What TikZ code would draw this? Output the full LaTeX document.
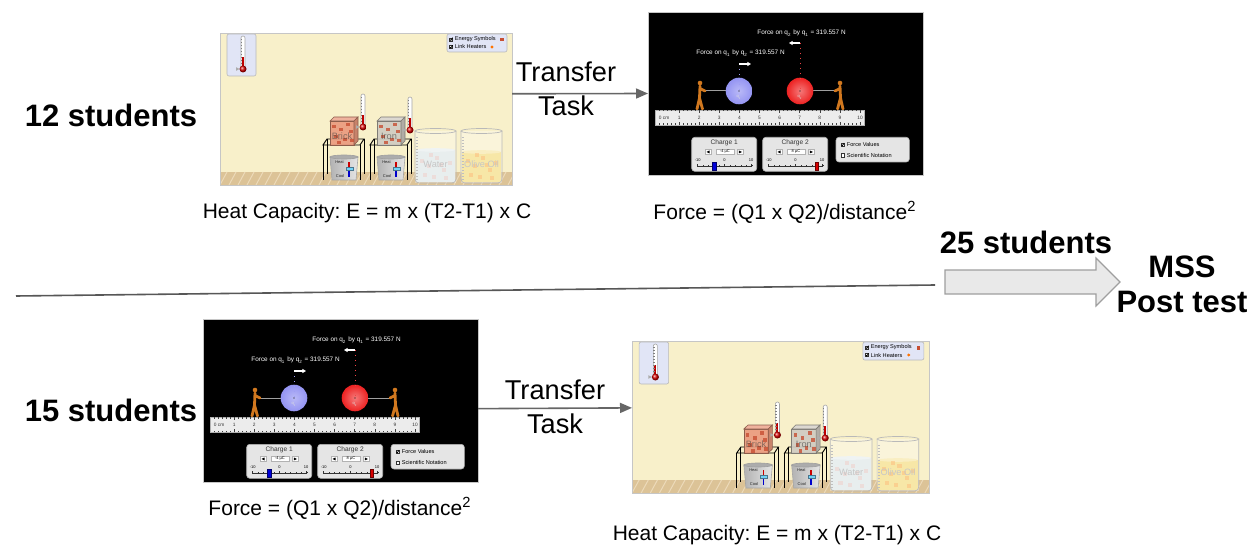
\documentclass[tikz,border=0pt]{standalone}
\usepackage{fontspec}
\setmainfont{Liberation Sans}
\usetikzlibrary{calc,arrows.meta}
\frenchspacing

\newlength{\du}
\setlength{\du}{0.5pt}

\definecolor{wallcolor}{rgb}{0.973, 0.941, 0.792}
\definecolor{floorcolor}{rgb}{0.863, 0.765, 0.592}
\definecolor{graincolor}{rgb}{0.925, 0.855, 0.725}
\definecolor{panelcolor}{rgb}{0.882, 0.898, 0.965}
\definecolor{brickcolor}{rgb}{0.918, 0.600, 0.490}
\definecolor{ironcolor}{rgb}{0.815, 0.795, 0.760}
\definecolor{chunkcolor}{rgb}{0.780, 0.310, 0.200}
\definecolor{oilcolor}{rgb}{0.957, 0.867, 0.510}
\definecolor{watercolor}{rgb}{0.875, 0.905, 0.910}
\definecolor{qonecolor}{rgb}{0.580, 0.580, 0.950}
\definecolor{qtwocolor}{rgb}{0.930, 0.130, 0.130}
\definecolor{mancolor}{rgb}{0.820, 0.470, 0.120}
\definecolor{ctrlcolor}{rgb}{0.900, 0.900, 0.900}
\definecolor{linkcolor}{rgb}{0.400, 0.400, 0.400}

\tikzset{
  simframe/.style={draw=gray!45, line width=0.5\du, inner sep=0pt, outer sep=0pt},
  count/.style={font=\fontsize{15.5}{17.5}\selectfont\bfseries, align=center, inner sep=0pt},
  caption/.style={font=\fontsize{10.5}{12}\selectfont, inner sep=0pt},
  tasklabel/.style={font=\fontsize{13.6}{16.8}\selectfont, align=center, inner sep=0pt},
  transfer/.style={draw=linkcolor, line width=1.6\du, -{Stealth[length=6pt, width=5pt, inset=0pt]}},
  divider/.style={draw=linkcolor!85!black, line width=1.6\du},
  bigarrow/.style={fill=gray!17, draw=gray!75, line width=1.2\du, line join=miter},
  tinytext/.style={font=\fontsize{2.8}{3}\selectfont, inner sep=0pt},
  microtext/.style={font=\fontsize{2}{2.2}\selectfont, inner sep=0pt},
  rulertext/.style={font=\fontsize{2.4}{2.6}\selectfont, text=black!80, inner sep=0pt},
  readout/.style={font=\fontsize{3.2}{3.6}\selectfont, text=white, inner sep=0pt},
  ctrltext/.style={font=\fontsize{3.3}{3.6}\selectfont, text=black!80, inner sep=0pt},
  labeltext/.style={font=\fontsize{4.6}{5}\selectfont, text=gray!45, inner sep=0pt},
  trayframe/.style={fill=panelcolor, draw=gray!55, line width=0.3, rounded corners=1},
  ctrlpanel/.style={fill=ctrlcolor, draw=gray!60, line width=0.3, rounded corners=1.5},
  wire/.style={draw=black, line width=0.45},
  forcearrow/.style={draw=white, line width=0.7, -{Stealth[length=1.8pt, width=2pt, inset=0pt]}},
  pullerline/.style={draw=mancolor, line width=1.4, line cap=round, line join=round},
}

% small parts of the two simulations
\newcommand{\thermo}[2]{%
\begin{scope}[shift={(#1,#2)}]
\filldraw[fill=white, draw=gray!70, line width=0.3, rounded corners=1] (-2,-33) rectangle (2,-1);
\fill[red!75!black] (-1,-12) rectangle (1,-1);
\foreach \h in {-30,-27,...,-6} \draw[gray, line width=0.2] (-2,\h) -- (-0.8,\h);
\fill[gray!65] (-3.5,0) -- (-7,-1.8) -- (-7,1.8) -- cycle;
\shade[ball color=red!85!black] (0,0) circle (3.5);
\end{scope}}

\newcommand{\tickbox}[2]{%
\filldraw[fill=white, draw=gray!40!black, line width=0.2] ({#1-1.6},{#2-1.6}) rectangle ({#1+1.6},{#2+1.6});
\draw[black, line width=0.35] ({#1-1.1},{#2}) -- ({#1-0.2},{#2+1}) -- ({#1+1.7},{#2-1.8});}

\newcommand{\blankbox}[2]{%
\filldraw[fill=white, draw=gray!40!black, line width=0.2] ({#1-1.6},{#2-1.6}) rectangle ({#1+1.6},{#2+1.6});}

\newcommand{\station}[4]{%
\begin{scope}[shift={(#1,0)}]
% burner
\shadedraw[left color=gray!60, right color=gray!20, draw=gray!70, line width=0.3] (110,124) -- (138,124) -- (136,147) -- (112,147) -- cycle;
\filldraw[fill=gray!65, draw=gray!75, line width=0.3] (124,124) ellipse (14 and 2);
\fill[red!80!black] (128.4,129) rectangle (130.2,136);
\fill[blue!80!black] (128.4,136) rectangle (130.2,144);
\filldraw[fill=cyan!55, draw=cyan!50!black, line width=0.2] (125.8,134.4) rectangle (133,137.2);
\node[microtext, text=gray!30!black] at (119.5,129.5) {Heat};
\node[microtext, text=gray!30!black] at (120,143.5) {Cool};
% stand
\draw[wire] (103,112) -- (107,106) -- (144,106) -- (140,112) -- cycle;
\draw[wire] (103,112) -- (103,147) (140,112) -- (140,147) (107,106) -- (107,141) (144,106) -- (144,141);
% block
\filldraw[fill=#2, draw=#2!60!black, line width=0.3, fill opacity=0.9] (110,88) rectangle (134,112);
\filldraw[fill=#2!75!white, draw=#2!60!black, line width=0.3] (110,88) -- (114,84) -- (138,84) -- (134,88) -- cycle;
\filldraw[fill=#2!85!black, draw=#2!60!black, line width=0.3] (134,88) -- (138,84) -- (138,108) -- (134,112) -- cycle;
\foreach \p in {(112,92),(119,95),(126,90),(114,102),(123,105),(129,97),(117,108),(130,106)}
  \fill[chunkcolor, opacity=0.8] \p rectangle ++(3.5,3.5);
\node[labeltext, text=gray!50!black, opacity=0.6] at (122,103) {#3};
\thermo{143}{#4}
\end{scope}}

\newcommand{\beaker}[5]{%
\begin{scope}[shift={(#1,0)}]
\fill[#2] (1,#3) rectangle (40,149);
\fill[#2!70!white] (20.5,#3) ellipse (19.5 and 1.8);
\foreach \p in {(5,126),(12,131),(20,123),(27,135),(33,128),(8,140),(17,142),(29,143),(24,130),(14,120)}
  \fill[#5, opacity=0.5] \p rectangle ++(4,4);
\fill[white, opacity=0.3] (0,98) rectangle (41,150);
\draw[gray!55, line width=0.35, rounded corners=2] (0,98) -- (0,150) -- (41,150) -- (41,98);
\draw[gray!55, line width=0.35] (20.5,98) ellipse (20.5 and 2.5);
\foreach \h in {104,107,...,146} \draw[gray!50, line width=0.2] (0.5,\h) -- (2.5,\h);
\node[labeltext] at (20.5,131) {#4};
\end{scope}}

\newcommand{\puller}[2]{%
\begin{scope}[shift={(#1,0)}, xscale=#2]
\fill[mancolor] (0,71) circle (2.3);
\draw[pullerline] (0,74) -- (-0.5,86) (0,76.5) -- (5,79) (-0.5,86) -- (-3,97) (-0.5,86) -- (2.5,97);
\end{scope}}

\newcommand{\chargebox}[5]{%
\begin{scope}[shift={(#1,125.3)}]
\filldraw[ctrlpanel] (0,0) rectangle (65,34);
\node[ctrltext] at (32.5,5) {#2};
\filldraw[fill=white, draw=gray!60, line width=0.2] (13.3,12.3) rectangle (19.3,17);
\fill[black] (14.8,14.65) -- (17.8,13.2) -- (17.8,16.1) -- cycle;
\filldraw[fill=white, draw=gray!60, line width=0.2] (24,12.3) rectangle (42.3,17);
\node[microtext] at (33.2,14.65) {#3};
\filldraw[fill=white, draw=gray!60, line width=0.2] (45.7,12.3) rectangle (51.7,17);
\fill[black] (50.2,14.65) -- (47.2,13.2) -- (47.2,16.1) -- cycle;
\node[microtext] at (6,23) {-10};
\node[microtext] at (32.85,23) {0};
\node[microtext] at (59.5,23) {10};
\draw[gray!40!black, line width=0.4] (5.7,29) -- (60,29);
\foreach \s in {0,...,10} \draw[gray!40!black, line width=0.2] ({5.7+5.43*\s},29) -- ++(0,-1);
\foreach \s in {0,5,10} \draw[gray!40!black, line width=0.25] ({5.7+5.43*\s},29) -- ++(0,-2.2);
\filldraw[fill=#5, draw=#5!50!black, line width=0.3] ({#4-1.8},25) rectangle ({#4+1.8},33);
\end{scope}}

% the two simulation screens
\newcommand{\heatsim}[4]{%
\begin{scope}[shift={(#2\du,#3\du)}, x=#4\du, y=1\du]
\fill[wallcolor] (0,0) rectangle (292,152);
\fill[floorcolor] (0,139) rectangle (292,152);
\begin{scope}
\clip (0,139) rectangle (292,152);
\foreach \g in {0,9,...,297} \draw[graincolor, line width=0.5] (\g,152) -- ++(7,-13);
\end{scope}
\filldraw[trayframe] (7,1) rectangle (36,43);
\thermo{23}{36}
\filldraw[trayframe] (227,1) rectangle (287,19);
\tickbox{231}{6.5}
\node[tinytext, anchor=west] at (234.5,6.5) {Energy Symbols};
\fill[chunkcolor] (280,5) rectangle (283.5,8.5);
\tickbox{231}{14}
\node[tinytext, anchor=west] at (234.5,14) {Link Heaters};
\fill[orange!90!red] (272,14) circle (1.6);
\station{0}{brickcolor}{Brick}{94}
\station{47}{ironcolor}{Iron}{97}
\beaker{195}{watercolor}{117}{Water}{chunkcolor!40}
\beaker{241}{oilcolor}{119}{Olive Oil}{orange!75}
\end{scope}
\node[simframe, anchor=north west, minimum width={#4*292*\du}, minimum height=152\du] (#1) at (#2\du,#3\du) {};}

\newcommand{\forcesim}[3]{%
\begin{scope}[shift={(#2\du,#3\du)}, x=1\du, y=1\du]
\fill[black] (0,0) rectangle (275,163);
\draw[gray!75, line width=0.5] (56,79) -- (80,79) (163,79) -- (188,79);
\puller{52}{1}
\puller{192}{-1}
\shade[inner color=qonecolor!65!white, outer color=qonecolor] (91,79) circle (13.3);
\shade[inner color=qtwocolor!60!white, outer color=qtwocolor] (152,79) circle (13.3);
\draw[qonecolor!90!white, dotted, line width=0.5] (91,52) -- (91,79);
\draw[qtwocolor!85!white, dotted, line width=0.5] (152,31) -- (152,79);
\fill[black] (91,79) circle (0.6) (152,79) circle (0.6);
\node[microtext, text=white!75!gray] at (91,85) {q\textsubscript{1}};
\node[microtext, text=white!75!gray] at (152,85) {q\textsubscript{2}};
\draw[forcearrow] (91,52) -- (103,52);
\draw[forcearrow] (152,31) -- (141,31);
\node[readout, anchor=west] at (109,21) {Force on q\textsubscript{2} by q\textsubscript{1} = 319.557 N};
\node[readout, anchor=west] at (48,41.5) {Force on q\textsubscript{1} by q\textsubscript{2} = 319.557 N};
% ruler
\filldraw[fill=gray!15, draw=gray!60, line width=0.4] (7,98) rectangle (216,113);
\foreach \t in {0,...,50} \draw[gray!50!black, line width=0.2] ({11+4.02*\t},98) -- ++(0,1.5) ({11+4.02*\t},113) -- ++(0,-1.5);
\foreach \k in {1,...,10} \draw[gray!50!black, line width=0.3] ({11+20.1*\k},98) -- ++(0,3) ({11+20.1*\k},113) -- ++(0,-3);
\node[rulertext, anchor=west] at (10.5,105.5) {0 cm};
\foreach \k in {1,...,10} \node[rulertext] at ({11+20.1*\k},105.5) {\k};
% controls
\chargebox{43.7}{Charge 1}{-4 µC}{22.3}{blue!85!black}
\chargebox{114.7}{Charge 2}{8 µC}{54}{red!85!black}
\filldraw[ctrlpanel] (188,125.3) rectangle (261.3,150);
\tickbox{194.5}{132.8}
\node[tinytext, anchor=west] at (198.5,132.8) {Force Values};
\blankbox{194.5}{143.3}
\node[tinytext, anchor=west] at (198.5,143.3) {Scientific Notation};
\end{scope}
\node[simframe, anchor=north west, minimum width=275\du, minimum height=163\du] (#1) at (#2\du,#3\du) {};}

\begin{document}
\begin{tikzpicture}
\pgftransformxscale{1.000000}
\pgftransformyscale{-1.000000}
\fill[white] (0\du,0\du) rectangle (1252\du,545\du);
\useasboundingbox (0\du,0\du) rectangle (1252\du,545\du);
% first group
\heatsim{heatA}{220}{33}{1}
\forcesim{forceA}{648}{12}
\node[count] (groupA) at (111\du,115\du) {12 students};
\node[caption] (capHeatA) at (367\du,213\du) {Heat Capacity: E = m x (T2-T1) x C};
\node[caption] (capForceA) at (785\du,213\du) {Force = (Q1 x Q2)/distance\textsuperscript{2}};
\node[tasklabel] (taskA) at (566\du,89\du) {Transfer\\Task};
\draw[transfer] ($(heatA.north east)!0.4!(heatA.south east)$) -- (forceA.west);
% second group
\forcesim{forceB}{203}{319}
\heatsim{heatB}{632}{341}{1.017}
\node[count] (groupB) at (111\du,410\du) {15 students};
\node[caption] (capForceB) at (340\du,509\du) {Force = (Q1 x Q2)/distance\textsuperscript{2}};
\node[caption] (capHeatB) at (777\du,535\du) {Heat Capacity: E = m x (T2-T1) x C};
\node[tasklabel] (taskB) at (555\du,407\du) {Transfer\\Task};
\draw[transfer] ($(forceB.north east)!0.55!(forceB.south east)$) -- ($(heatB.north west)!0.44!(heatB.south west)$);
% split and post test
\coordinate (splitL) at (16\du,296\du);
\coordinate (splitR) at (935\du,285\du);
\draw[divider] (splitL) -- (splitR);
\filldraw[bigarrow] (945\du,270\du) -- (1096\du,270\du) -- (1096\du,258\du) -- (1120\du,282\du) -- (1096\du,306\du) -- (1096\du,294\du) -- (945\du,294\du) -- cycle;
\node[count] (groupAll) at (1026\du,242\du) {25 students};
\node[count] (post) at (1182\du,284\du) {MSS\\Post test};
\end{tikzpicture}
\end{document}
